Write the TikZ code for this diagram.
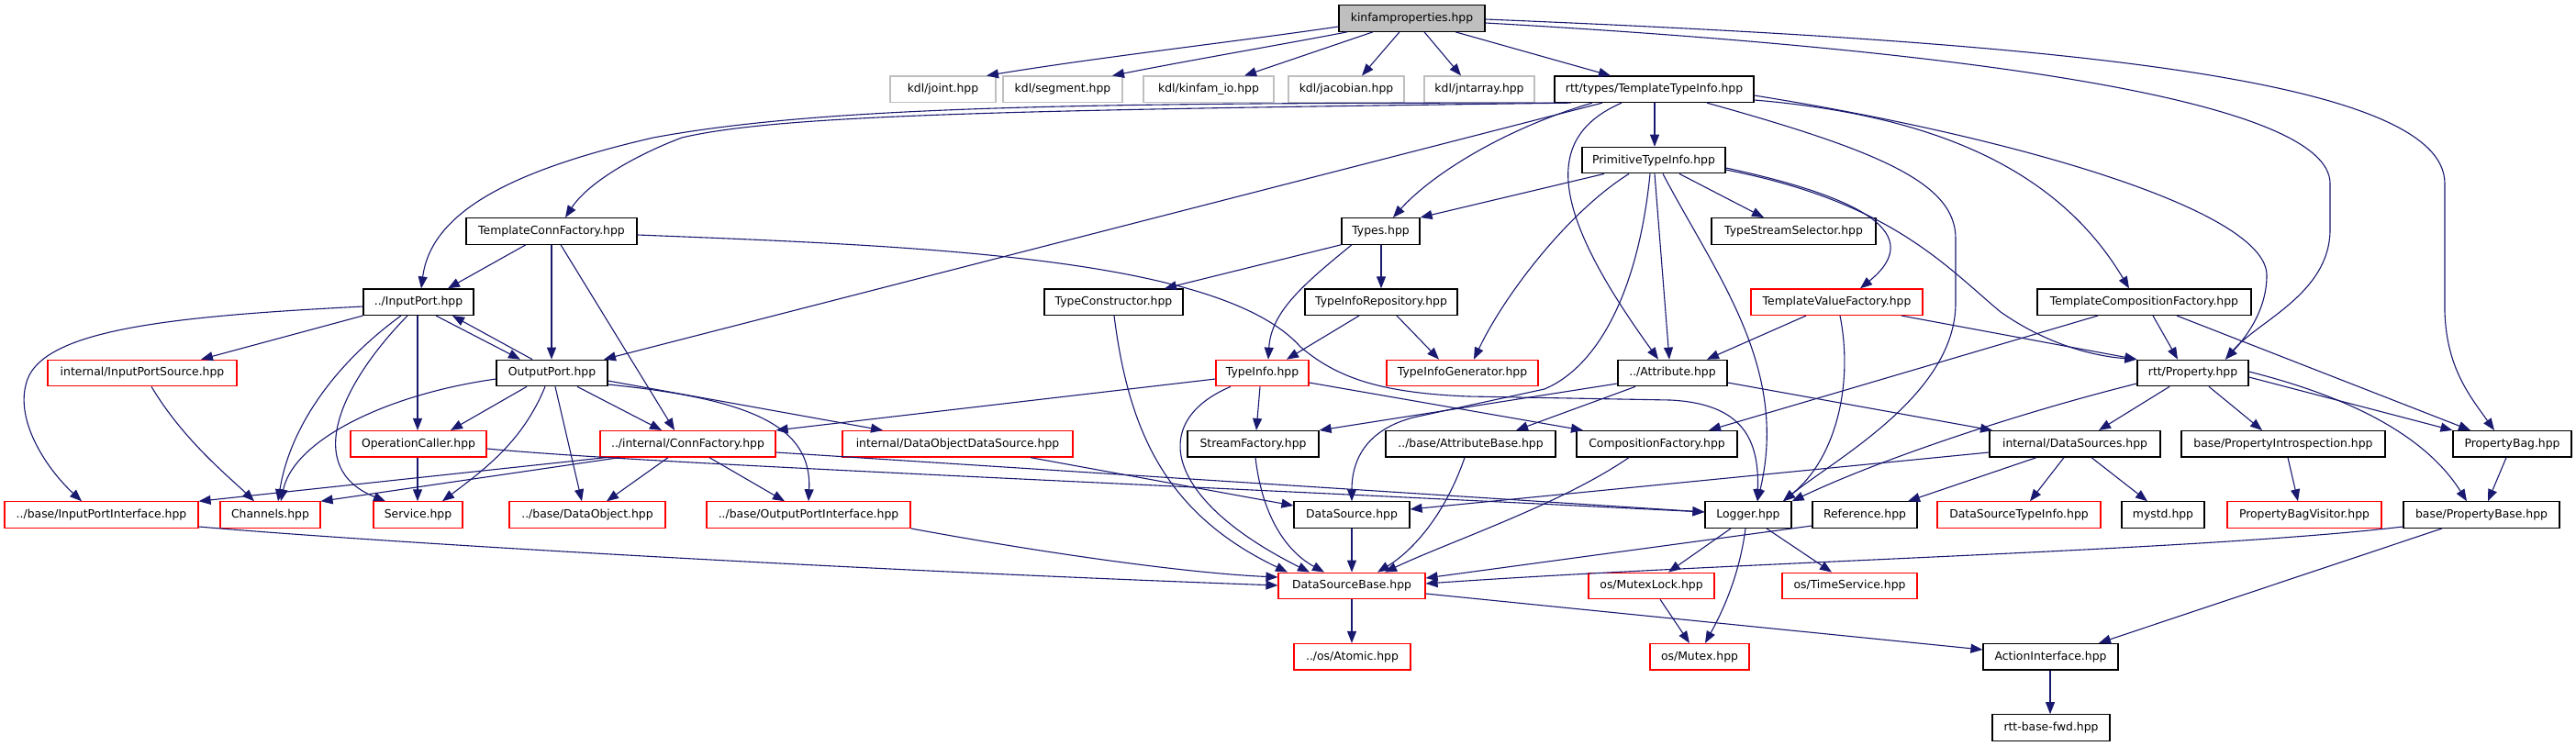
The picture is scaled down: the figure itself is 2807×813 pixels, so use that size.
\documentclass[tikz,border=0pt]{standalone}
\usepackage{fontspec}
\setmainfont{DejaVu Sans}
\usetikzlibrary{arrows.meta}
\definecolor{edgec}{HTML}{191970}
\definecolor{redc}{HTML}{FF0000}
\definecolor{grayc}{HTML}{BFBFBF}
\tikzset{
  boxbase/.style={rectangle, inner sep=0pt, minimum height=28.5pt, line width=1.2pt, font=\fontsize{12.4pt}{14pt}\selectfont, text=black},
  nb/.style={boxbase, draw=black},
  rb/.style={boxbase, draw=redc},
  gb/.style={boxbase, draw=grayc},
  rootb/.style={boxbase, draw=black, fill=grayc},
  dep/.style={draw=edgec, line width=1.1pt, -{Triangle[length=13pt,width=10pt]}},
}
\begin{document}
\begin{tikzpicture}[x=1pt,y=-1pt]
\fill[white] (0,0) rectangle (2807,813);
\useasboundingbox (0,0) rectangle (2807,813);
% ---------- nodes ----------
\node[rootb, minimum width=159] (kinfam) at (1538.5,20) {kinfamproperties.hpp};
\node[gb, minimum width=115] (joint) at (1027.5,97.3) {kdl/joint.hpp};
\node[gb, minimum width=130] (segment) at (1158,97.3) {kdl/segment.hpp};
\node[gb, minimum width=142] (kinio) at (1317,97.3) {kdl/kinfam\_io.hpp};
\node[gb, minimum width=126] (jacobian) at (1467,97.3) {kdl/jacobian.hpp};
\node[gb, minimum width=120] (jntarray) at (1612,97.3) {kdl/jntarray.hpp};
\node[nb, minimum width=217] (tti) at (1802.5,97.3) {rtt/types/TemplateTypeInfo.hpp};
\node[nb, minimum width=156] (prim) at (1802,174.6) {PrimitiveTypeInfo.hpp};
\node[nb, minimum width=186] (tcf) at (601,251.9) {TemplateConnFactory.hpp};
\node[nb, minimum width=85] (types) at (1504.5,251.9) {Types.hpp};
\node[nb, minimum width=179] (tss) at (1954.5,251.9) {TypeStreamSelector.hpp};
\node[nb, minimum width=120] (inport) at (456,329.2) {../InputPort.hpp};
\node[nb, minimum width=151] (tcons) at (1213.5,329.2) {TypeConstructor.hpp};
\node[nb, minimum width=166] (tir) at (1505,329.2) {TypeInfoRepository.hpp};
\node[rb, minimum width=187] (tvf) at (2001.5,329.2) {TemplateValueFactory.hpp};
\node[nb, minimum width=233] (tcompf) at (2336.5,329.2) {TemplateCompositionFactory.hpp};
\node[rb, minimum width=206] (ips) at (155,406.5) {internal/InputPortSource.hpp};
\node[nb, minimum width=121] (outport) at (601.5,406.5) {OutputPort.hpp};
\node[rb, minimum width=101] (tinfo) at (1375.5,406.5) {TypeInfo.hpp};
\node[rb, minimum width=165] (tig) at (1593.5,406.5) {TypeInfoGenerator.hpp};
\node[nb, minimum width=119] (attr) at (1822.5,406.5) {../Attribute.hpp};
\node[nb, minimum width=121] (prop) at (2389.5,406.5) {rtt/Property.hpp};
\node[rb, minimum width=148] (opcall) at (456,483.8) {OperationCaller.hpp};
\node[rb, minimum width=191] (connf) at (749.5,483.8) {../internal/ConnFactory.hpp};
\node[rb, minimum width=251] (dods) at (1043.5,483.8) {internal/DataObjectDataSource.hpp};
\node[nb, minimum width=143] (sfact) at (1365.5,483.8) {StreamFactory.hpp};
\node[nb, minimum width=185] (attrb) at (1602.5,483.8) {../base/AttributeBase.hpp};
\node[nb, minimum width=175] (compf) at (1805.5,483.8) {CompositionFactory.hpp};
\node[nb, minimum width=186] (dsrcs) at (2261,483.8) {internal/DataSources.hpp};
\node[nb, minimum width=222] (pintro) at (2488,483.8) {base/PropertyIntrospection.hpp};
\node[nb, minimum width=129] (pbag) at (2737.5,483.8) {PropertyBag.hpp};
\node[rb, minimum width=211] (ipi) at (110.5,561.1) {../base/InputPortInterface.hpp};
\node[rb, minimum width=109] (chan) at (294.5,561.1) {Channels.hpp};
\node[rb, minimum width=97] (serv) at (455.5,561.1) {Service.hpp};
\node[rb, minimum width=170] (dobj) at (640,561.1) {../base/DataObject.hpp};
\node[rb, minimum width=222] (opi) at (881,561.1) {../base/OutputPortInterface.hpp};
\node[nb, minimum width=126] (dsrc) at (1473,561.1) {DataSource.hpp};
\node[nb, minimum width=94] (logger) at (1905,561.1) {Logger.hpp};
\node[nb, minimum width=114] (ref) at (2032,561.1) {Reference.hpp};
\node[rb, minimum width=178] (dsti) at (2200,561.1) {DataSourceTypeInfo.hpp};
\node[nb, minimum width=90] (mystd) at (2357,561.1) {mystd.hpp};
\node[rb, minimum width=168] (pbv) at (2511,561.1) {PropertyBagVisitor.hpp};
\node[nb, minimum width=170] (pbase) at (2704,561.1) {base/PropertyBase.hpp};
\node[rb, minimum width=160] (dsb) at (1473,638.4) {DataSourceBase.hpp};
\node[rb, minimum width=137] (mlock) at (1799.5,638.4) {os/MutexLock.hpp};
\node[rb, minimum width=147] (tserv) at (2015.5,638.4) {os/TimeService.hpp};
\node[rb, minimum width=127] (atomic) at (1473.5,715.7) {../os/Atomic.hpp};
\node[rb, minimum width=108] (mutex) at (1852,715.7) {os/Mutex.hpp};
\node[nb, minimum width=147] (action) at (2234.5,715.7) {ActionInterface.hpp};
\node[nb, minimum width=128] (fwd) at (2235,793) {rtt-base-fwd.hpp};
% ---------- edges ----------
% kinfamproperties
\draw[dep] (kinfam.west |- 0,29) .. controls (1350,45) and (1200,62) .. (joint.north -| 1075,0);
\draw[dep] (kinfam.south -| 1468,0) .. controls (1400,48) and (1300,65) .. (segment.north -| 1212,0);
\draw[dep] (kinfam.south -| 1496,0) -- (kinio.north -| 1356,0);
\draw[dep] (kinfam.south -| 1525,0) -- (jacobian.north -| 1484,0);
\draw[dep] (kinfam.south -| 1552,0) -- (jntarray.north -| 1592,0);
\draw[dep] (kinfam.south -| 1586,0) -- (tti.north -| 1755,0);
\draw[dep] (kinfam.east |- 0,25) .. controls (2150,55) and (2539,110) .. (2539,200) -- (2539,250) .. controls (2539,320) and (2460,350) .. (prop.north -| 2425,0);
\draw[dep] (kinfam.east |- 0,21) .. controls (2200,45) and (2664,80) .. (2664,200) -- (2664,340) .. controls (2666,400) and (2690,430) .. (pbag.north -| 2718,0);
% TemplateTypeInfo
\draw[dep] (tti.south west) .. controls (1200,112) and (900,115) .. (712,150) .. controls (560,185) and (470,230) .. (inport.north -| 459,0);
\draw[dep] (tti.south -| 1712,0) .. controls (1100,120) and (850,125) .. (743,150) .. controls (690,170) and (640,200) .. (tcf.north -| 616,0);
\draw[dep] (tti.south -| 1746,0) -- (outport.north -| 658,0);
\draw[dep] (tti.south -| 1735,0) .. controls (1640,140) and (1560,190) .. (types.north -| 1518,0);
\draw[dep] (tti.south -| 1803,0) -- (prim.north -| 1803,0);
\draw[dep] (tti.south -| 1767,0) .. controls (1680,150) and (1690,230) .. (attr.north -| 1807,0);
\draw[dep] (tti.south -| 1860,0) .. controls (2050,165) and (2131,200) .. (2131,260) -- (2131,330) .. controls (2131,430) and (2000,500) .. (logger.north -| 1943,0);
\draw[dep] (tti.east |- 0,104) .. controls (2200,150) and (2470,230) .. (2470,300) .. controls (2470,340) and (2445,370) .. (prop.north -| 2425,0);
\draw[dep] (tti.east |- 0,109) .. controls (2100,125) and (2240,180) .. (tcompf.north -| 2320,0);
% PrimitiveTypeInfo
\draw[dep] (prim.south -| 1748,0) -- (types.north east);
\draw[dep] (prim.south -| 1830,0) -- (tss.north -| 1922,0);
\draw[dep] (prim.east |- 0,183) .. controls (2030,215) and (2100,255) .. (tvf.north -| 2027,0);
\draw[dep] (prim.east |- 0,185) .. controls (2060,220) and (2120,290) .. (2180,340) .. controls (2230,375) and (2280,388) .. (prop.north west);
\draw[dep] (prim.south -| 1803,0) -- (attr.north -| 1819,0);
\draw[dep] (prim.south -| 1812,0) .. controls (1870,300) and (1950,400) .. (logger.north -| 1915,0);
\draw[dep] (prim.south -| 1775,0) .. controls (1710,230) and (1640,320) .. (tig.north -| 1606,0);
\draw[dep] (prim.south -| 1798,0) .. controls (1785,320) and (1740,400) .. (1683,424) -- (1540,455) .. controls (1490,468) and (1473,500) .. (dsrc.north);
% Types
\draw[dep] (types.south west) -- (tcons.north -| 1269,0);
\draw[dep] (types.south -| 1505,0) -- (tir.north -| 1505,0);
\draw[dep] (types.south -| 1473,0) .. controls (1420,310) and (1385,340) .. (tinfo.north -| 1382,0);
% TypeConstructor, TypeInfoRepository
\draw[dep] (tcons.south -| 1214,0) .. controls (1230,470) and (1270,560) .. (dsb.north -| 1403,0);
\draw[dep] (tir.south -| 1481,0) -- (tinfo.north -| 1402,0);
\draw[dep] (tir.south -| 1522,0) -- (tig.north -| 1568,0);
% TypeInfo
\draw[dep] (tinfo.south -| 1373,0) -- (sfact.north -| 1369,0);
\draw[dep] (tinfo.west |- 0,413) -- (connf.north east);
\draw[dep] (tinfo.east |- 0,417) -- (compf.north -| 1725,0);
\draw[dep] (tinfo.south -| 1341,0) .. controls (1250,460) and (1270,545) .. (dsb.north -| 1427,0);
% StreamFactory
\draw[dep] (sfact.south -| 1368,0) .. controls (1375,560) and (1400,600) .. (dsb.north -| 1443,0);
% Attribute
\draw[dep] (attr.west |- 0,418) -- (sfact.north east);
\draw[dep] (attr.south -| 1782,0) -- (attrb.north -| 1652,0);
\draw[dep] (attr.east |- 0,417) -- (dsrcs.north -| 2171,0);
% TemplateValueFactory
\draw[dep] (tvf.south -| 1968,0) -- (attr.north -| 1860,0);
\draw[dep] (tvf.south -| 2005,0) .. controls (2020,420) and (2000,500) .. (logger.north -| 1943,0);
\draw[dep] (tvf.south -| 2072,0) -- (prop.north west);
% TemplateCompositionFactory
\draw[dep] (tcompf.south -| 2286,0) -- (compf.north -| 1862,0);
\draw[dep] (tcompf.south -| 2346,0) -- (prop.north -| 2373,0);
\draw[dep] (tcompf.south -| 2372,0) -- (pbag.north -| 2692,0);
% rtt/Property
\draw[dep] (prop.west |- 0,418) .. controls (2200,450) and (2050,500) .. (logger.north east);
\draw[dep] (prop.south -| 2364,0) -- (dsrcs.north -| 2287,0);
\draw[dep] (prop.south -| 2407,0) -- (pintro.north -| 2465,0);
\draw[dep] (prop.east |- 0,411) -- (pbag.north west);
\draw[dep] (prop.east |- 0,405) .. controls (2550,430) and (2640,470) .. (pbase.north -| 2688,0);
% PropertyIntrospection, PropertyBag
\draw[dep] (pintro.south -| 2493,0) -- (pbv.north -| 2504,0);
\draw[dep] (pbag.south -| 2731,0) -- (pbase.north -| 2711,0);
% internal/DataSources
\draw[dep] (dsrcs.west |- 0,493) -- (dsrc.east |- 0,555);
\draw[dep] (dsrcs.south -| 2219,0) -- (ref.north -| 2079,0);
\draw[dep] (dsrcs.south -| 2249,0) -- (dsti.north -| 2212,0);
\draw[dep] (dsrcs.south -| 2279,0) -- (mystd.north -| 2340,0);
% Reference, PropertyBase
\draw[dep] (ref.west |- 0,573) -- (dsb.east |- 0,630);
\draw[dep] (pbase.west |- 0,574) .. controls (2400,600) and (1900,612) .. (dsb.east |- 0,636);
\draw[dep] (pbase.south -| 2661,0) -- (action.north -| 2287,0);
% DataSourceBase, ActionInterface
\draw[dep] (dsb.south -| 1473,0) -- (atomic.north -| 1473,0);
\draw[dep] (dsb.east |- 0,647) -- (action.west |- 0,708);
\draw[dep] (action.south -| 2234,0) -- (fwd.north -| 2234,0);
% Logger
\draw[dep] (logger.south -| 1886,0) -- (mlock.north -| 1818,0);
\draw[dep] (logger.south -| 1902,0) .. controls (1895,630) and (1875,670) .. (mutex.north -| 1858,0);
\draw[dep] (logger.south -| 1925,0) -- (tserv.north -| 1996,0);
\draw[dep] (mlock.south -| 1809,0) -- (mutex.north -| 1841,0);
% DataSource, AttributeBase, CompositionFactory, DataObjectDataSource
\draw[dep] (dsrc.south -| 1473,0) -- (dsb.north -| 1473,0);
\draw[dep] (attrb.south -| 1596,0) .. controls (1575,560) and (1540,600) .. (dsb.north -| 1501,0);
\draw[dep] (compf.south -| 1775,0) .. controls (1700,550) and (1580,590) .. (dsb.north -| 1509,0);
\draw[dep] (dods.south -| 1123,0) -- (dsrc.west |- 0,551);
% Port interfaces
\draw[dep] (opi.south east) .. controls (1150,605) and (1300,625) .. (dsb.west |- 0,629);
\draw[dep] (ipi.east |- 0,574) .. controls (400,590) and (900,620) .. (dsb.west |- 0,638);
% ConnFactory
\draw[dep] (connf.south -| 660,0) -- (ipi.north east);
\draw[dep] (connf.south -| 675,0) -- (chan.north east);
\draw[dep] (connf.south -| 728,0) -- (dobj.north -| 661,0);
\draw[dep] (connf.south -| 773,0) -- (opi.north -| 855,0);
\draw[dep] (connf.east |- 0,493) -- (logger.west |- 0,558);
% OperationCaller
\draw[dep] (opcall.south -| 455,0) -- (serv.north -| 455,0);
\draw[dep] (opcall.east |- 0,489) .. controls (700,505) and (1200,525) .. (logger.west |- 0,558);
% OutputPort
\draw[dep] (outport.north -| 580,0) -- (inport.south -| 493,0);
\draw[dep] (outport.south -| 574,0) -- (opcall.north -| 491,0);
\draw[dep] (outport.west |- 0,413) .. controls (420,430) and (320,480) .. (chan.north -| 306,0);
\draw[dep] (outport.south -| 594,0) .. controls (570,480) and (530,510) .. (serv.north -| 482,0);
\draw[dep] (outport.south -| 605,0) -- (dobj.north -| 634,0);
\draw[dep] (outport.south -| 629,0) -- (connf.north -| 721,0);
\draw[dep] (outport.east |- 0,415) -- (dods.north -| 962,0);
\draw[dep] (outport.east |- 0,419) .. controls (820,435) and (885,465) .. (opi.north -| 881,0);
% InputPort
\draw[dep] (inport.south west) -- (ips.north -| 219,0);
\draw[dep] (inport.west |- 0,334) .. controls (180,345) and (40,360) .. (28,420) .. controls (18,460) and (50,510) .. (ipi.north -| 89,0);
\draw[dep] (inport.south -| 437,0) .. controls (360,400) and (315,470) .. (chan.north -| 303,0);
\draw[dep] (inport.south -| 444,0) .. controls (370,420) and (330,510) .. (serv.north -| 420,0);
\draw[dep] (inport.south -| 455,0) -- (opcall.north -| 455,0);
\draw[dep] (inport.south -| 475,0) -- (outport.north -| 567,0);
% InputPortSource
\draw[dep] (ips.south -| 165,0) .. controls (200,480) and (250,520) .. (chan.north -| 277,0);
% TemplateConnFactory
\draw[dep] (tcf.south -| 573,0) -- (inport.north -| 488,0);
\draw[dep] (tcf.south -| 601,0) -- (outport.north -| 601,0);
\draw[dep] (tcf.south -| 611,0) -- (connf.north -| 735,0);
\draw[dep] (tcf.east |- 0,256) .. controls (1000,268) and (1330,280) .. (1417,378) .. controls (1455,410) and (1500,428) .. (1600,432) -- (1820,436) .. controls (1900,440) and (1917,480) .. (logger.north -| 1915,0);
\end{tikzpicture}
\end{document}
